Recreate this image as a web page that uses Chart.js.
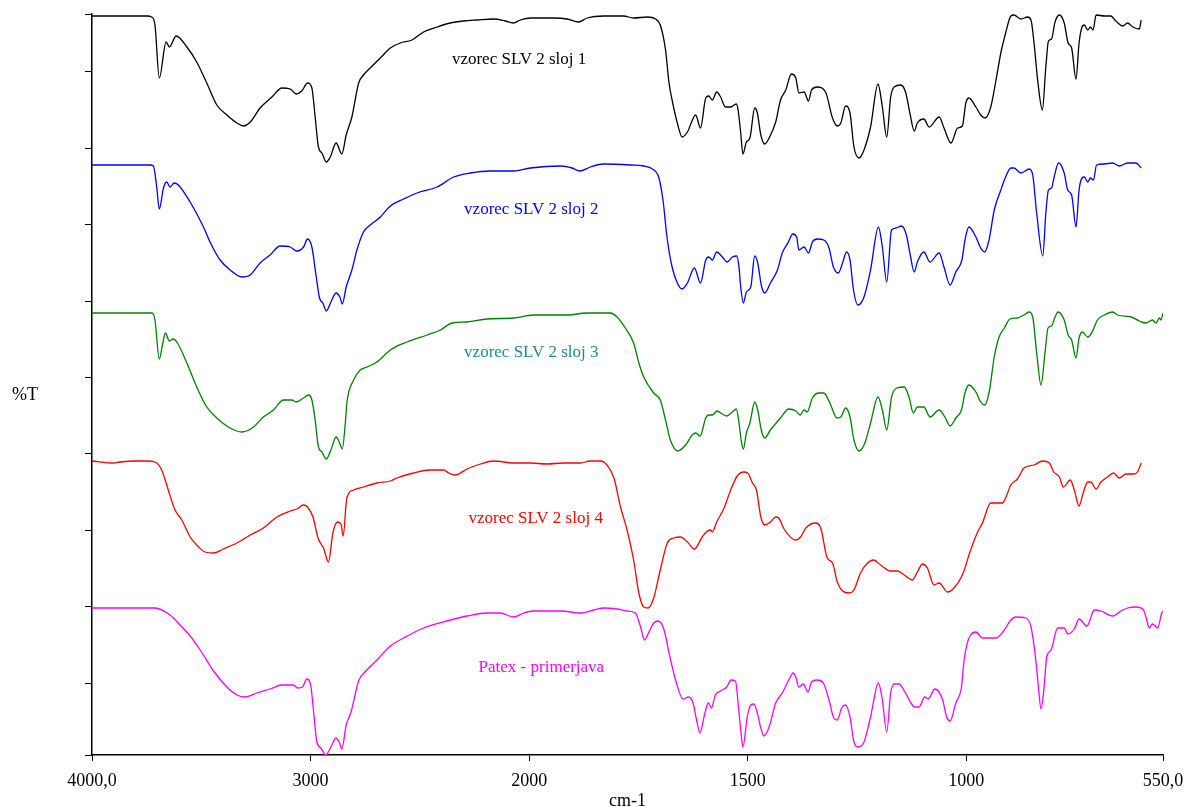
<!DOCTYPE html>
<html><head><meta charset="utf-8">
<script src="https://cdn.jsdelivr.net/npm/chart.js@4.4.0/dist/chart.umd.min.js"></script>
<style>html,body{margin:0;padding:0;background:#fff}</style>
</head><body>
<canvas id="c" width="1186" height="807"></canvas>
<script>
// ---- data: wavenumber (cm-1) and %T (stacked offset units) per trace ----
const wn1 = [4000,3748,3727,3712,3692,3661,3646,3615,3566,3521,3475,3429,3383,3337,3307,3276,3231,3177,3131,3093,3066,3040,3014,2994,2979,2964,2948,2928,2910,2883,2857,2837,2811,2780,2758,2727,2681,2635,2590,2536,2483,2421,2361,2300,2238,2162,2109,2073,2040,1997,1944,1913,1887,1867,1829,1784,1761,1730,1711,1700,1688,1680,1673,1661,1650,1638,1619,1608,1596,1589,1581,1571,1562,1551,1539,1526,1522,1516,1511,1503,1495,1484,1478,1470,1461,1451,1436,1425,1413,1400,1390,1383,1371,1361,1354,1341,1322,1306,1295,1287,1276,1266,1257,1245,1234,1219,1202,1192,1182,1173,1165,1150,1139,1129,1119,1112,1097,1085,1062,1051,1035,1020,1009,1001,994,978,967,957,944,932,921,910,898,891,875,860,852,845,836,826,818,812,805,797,787,776,767,759,749,742,736,730,722,716,710,703,684,669,658,642,631,619,604,600];
const t1 = [739,739,738,730,677,713,708,719,708,693,672,650,640,632,629,633,647,658,667,666,661,664,672,667,638,608,602,593,598,612,601,620,638,672,680,687,697,707,712,715,723,728,732,734,735,736,734,732,735,737,737,736,733,737,739,739,737,738,736,730,705,672,655,632,618,623,640,627,657,659,655,663,658,648,648,651,645,622,601,613,617,647,642,620,611,617,633,655,665,681,677,662,663,654,665,668,663,637,629,632,649,642,608,597,605,628,671,648,618,658,668,670,663,642,624,632,636,628,638,627,612,627,629,652,657,648,640,637,648,675,702,722,739,740,736,738,735,712,672,645,688,714,716,733,740,732,712,707,676,712,727,730,725,728,725,740,739,739,734,729,732,728,726,735];

const wn2 = [4000,3780,3734,3719,3704,3692,3673,3658,3643,3624,3605,3551,3490,3460,3414,3368,3314,3276,3231,3185,3139,3093,3063,3032,3014,2994,2974,2959,2944,2928,2907,2883,2864,2855,2837,2811,2788,2758,2727,2681,2635,2574,2513,2421,2345,2269,2177,2071,1997,1928,1902,1884,1860,1829,1768,1738,1718,1703,1693,1685,1673,1661,1650,1638,1622,1608,1596,1589,1581,1571,1558,1547,1535,1525,1520,1516,1510,1503,1493,1484,1477,1469,1461,1448,1432,1421,1408,1397,1388,1383,1371,1361,1352,1341,1326,1314,1304,1293,1283,1274,1266,1258,1248,1234,1219,1201,1192,1182,1171,1161,1148,1137,1129,1119,1112,1097,1083,1062,1051,1037,1024,1010,1003,994,978,967,958,948,936,921,910,898,891,875,856,848,839,825,818,812,805,799,789,776,768,759,749,742,735,730,722,716,709,702,684,665,650,631,612,600];
const t2 = [590,590,590,589,568,546,567,573,568,572,570,553,528,513,495,485,478,480,492,500,509,508,504,508,516,508,478,457,452,444,453,462,457,451,468,485,505,523,530,538,549,556,562,568,578,582,584,584,587,589,587,584,588,591,590,589,586,577,552,519,488,472,466,472,487,472,495,498,495,503,498,493,498,499,488,468,452,463,468,499,492,470,462,472,485,502,512,521,518,505,508,502,513,516,515,507,488,482,492,503,495,465,450,458,485,528,508,473,525,527,529,520,502,483,493,503,493,502,488,470,483,495,515,528,518,507,503,515,545,565,578,587,587,582,586,580,542,499,542,565,567,578,592,582,565,560,528,565,577,578,573,577,575,590,591,592,589,592,592,587];

const wn3 = [4000,3725,3712,3692,3676,3664,3646,3628,3609,3566,3521,3475,3429,3368,3314,3261,3216,3170,3124,3086,3066,3032,3009,2994,2979,2964,2948,2928,2907,2883,2867,2855,2841,2834,2803,2773,2742,2696,2635,2559,2467,2406,2353,2284,2193,2071,1990,1913,1867,1814,1799,1780,1761,1749,1738,1715,1700,1688,1677,1660,1642,1627,1619,1609,1596,1589,1581,1570,1558,1548,1535,1526,1520,1515,1510,1503,1495,1484,1477,1469,1461,1448,1425,1406,1390,1380,1371,1364,1352,1337,1326,1312,1296,1287,1276,1266,1257,1245,1232,1219,1202,1192,1182,1171,1159,1142,1131,1121,1112,1097,1083,1062,1049,1037,1024,1011,1003,994,978,967,958,948,936,925,913,900,883,868,857,848,839,829,820,813,805,797,790,776,767,759,749,742,734,722,711,700,684,665,654,623,604,589,574,566,558,555,550];
const t3 = [442,442,435,396,412,422,414,416,412,392,368,348,337,327,323,328,338,345,355,355,353,357,360,355,335,308,303,296,305,318,312,306,332,352,375,385,388,393,405,413,420,425,432,433,436,437,440,440,442,442,438,427,412,392,378,362,355,335,315,304,310,320,322,319,337,340,340,344,341,339,343,346,332,315,306,322,332,353,345,325,317,325,337,346,344,340,345,343,357,362,362,352,337,338,347,338,315,304,312,332,358,345,325,358,367,368,358,342,348,348,338,345,338,329,337,345,362,370,363,353,350,362,398,418,427,436,437,440,443,438,402,370,402,427,429,438,443,435,420,415,397,417,423,418,424,435,440,443,440,438,434,432,435,432,437,435,442];

const wn4 = [4000,3902,3872,3795,3750,3712,3681,3651,3620,3589,3551,3521,3483,3444,3399,3337,3276,3216,3154,3093,3063,3032,3014,2989,2966,2941,2918,2898,2877,2861,2851,2834,2803,2758,2696,2635,2605,2529,2452,2391,2368,2338,2284,2223,2162,2071,1997,1959,1921,1883,1860,1837,1822,1806,1791,1776,1761,1749,1738,1728,1715,1700,1684,1669,1654,1638,1622,1604,1595,1585,1581,1571,1554,1539,1524,1509,1500,1489,1480,1470,1461,1448,1436,1429,1417,1390,1379,1367,1345,1333,1318,1306,1295,1283,1268,1257,1242,1226,1212,1196,1173,1157,1142,1123,1112,1100,1089,1074,1062,1043,1028,1009,990,974,963,944,917,910,898,883,868,845,825,810,800,787,778,762,753,742,732,722,715,703,692,677,663,650,635,616,607,600];
const t4 = [294,292,293,294,294,293,285,265,245,235,218,210,203,202,206,212,220,227,238,244,246,250,248,238,217,207,193,222,233,231,219,257,265,268,272,274,277,282,285,285,282,280,286,291,294,292,292,291,292,292,294,294,290,277,248,225,195,162,148,147,157,185,212,217,218,213,206,218,223,225,223,233,247,265,279,283,282,272,265,238,230,233,238,237,226,215,218,227,232,227,197,192,173,164,162,165,182,192,195,190,184,184,180,175,183,191,187,170,172,163,167,180,205,223,232,252,252,257,270,276,287,290,294,292,283,278,268,275,265,249,263,273,273,266,273,278,282,277,281,281,284,292];

const wn5 = [4000,3712,3643,3597,3551,3505,3444,3383,3337,3299,3246,3185,3131,3078,3060,3037,3017,2998,2987,2971,2953,2930,2907,2884,2867,2857,2837,2815,2780,2742,2696,2635,2574,2483,2376,2284,2193,2132,2071,2025,1990,1928,1883,1852,1829,1799,1776,1757,1745,1736,1725,1715,1705,1692,1680,1665,1648,1635,1625,1617,1609,1600,1590,1583,1574,1562,1548,1538,1528,1522,1516,1511,1501,1493,1486,1478,1470,1463,1451,1436,1421,1406,1396,1390,1383,1373,1362,1354,1341,1327,1314,1303,1295,1285,1276,1266,1257,1247,1234,1219,1201,1192,1182,1173,1164,1154,1139,1118,1108,1095,1087,1072,1064,1054,1045,1037,1024,1011,1005,997,990,978,963,932,913,898,887,864,852,841,835,829,822,816,806,791,776,768,753,742,724,707,692,665,646,631,612,596,589,581,574,562,553,550];
const t5 = [147,147,140,130,119,105,84,68,60,58,62,66,70,70,67,68,76,68,45,13,7,0,8,17,12,6,30,43,74,85,95,109,117,127,134,139,142,142,138,142,144,144,142,145,147,146,144,142,128,115,124,132,134,126,102,75,56,58,52,35,22,38,52,47,60,64,68,75,74,52,25,8,38,50,51,42,27,19,28,52,62,75,82,78,68,71,63,73,75,72,55,37,35,47,50,38,13,8,13,38,72,55,23,62,71,71,62,48,48,58,56,66,64,55,38,34,52,68,95,113,120,123,117,117,125,135,138,137,128,95,68,46,68,98,105,127,127,121,126,136,129,145,144,139,144,147,148,146,138,127,131,127,142,144];

const seriesNames = ['vzorec SLV 2 sloj 1','vzorec SLV 2 sloj 2','vzorec SLV 2 sloj 3','vzorec SLV 2 sloj 4','Patex - primerjava'];
const seriesWn = [wn1, wn2, wn3, wn4, wn5];
const seriesT = [t1, t2, t3, t4, t5];
const lineColors = ['#000000','#0000ff','#008000','#ff0000','#ff00ff'];

// text labels placed in data space
const labelWn = [2046, 1995, 1995, 1985, 1972];
const labelT = [695, 545, 402, 236, 87];
const labelColors = ['#000000','#0000ff','#218a8a','#ff0000','#ff00ff'];

// axes
const xTickValues = [4000, 3000, 2000, 1500, 1000, 550];
const xTickLabels = ['4000,0', '3000', '2000', '1500', '1000', '550,0'];
const yTickValues = [0, 72, 148.4, 224.8, 301.2, 377.6, 454, 530.4, 606.8, 683.2, 741];
const yTitle = '%T';
const xTitle = 'cm-1';

// ---- piecewise wavenumber scale (scale halves below 2000 cm-1) ----
const WN_MAX = 4000, WN_BREAK = 2000, WN_MIN = 550;
class WavenumberScale extends Chart.LinearScale {
  _u(v) { return v >= WN_BREAK ? (WN_MAX - v) / 2 : (WN_MAX - WN_BREAK) / 2 + (WN_BREAK - v); }
  getPixelForValue(v) {
    const tot = this._u(WN_MIN);
    return this.left + this._u(v) / tot * this.width;
  }
  getValueForPixel(p) {
    const tot = this._u(WN_MIN);
    const u = (p - this.left) / this.width * tot;
    const ub = (WN_MAX - WN_BREAK) / 2;
    return u <= ub ? WN_MAX - 2 * u : WN_BREAK - (u - ub);
  }
}
WavenumberScale.id = 'wavenumber';
WavenumberScale.defaults = Chart.LinearScale.defaults;
Chart.register(WavenumberScale);

const FONT = 'Liberation Serif';

const textPlugin = {
  id: 'irText',
  afterDatasetsDraw(chart) {
    const { ctx, scales: { x, y } } = chart;
    ctx.save();
    ctx.textAlign = 'center';
    ctx.textBaseline = 'middle';
    ctx.font = '17px "' + FONT + '"';
    seriesNames.forEach((name, i) => {
      ctx.fillStyle = labelColors[i];
      ctx.fillText(name, x.getPixelForValue(labelWn[i]), y.getPixelForValue(labelT[i]));
    });
    ctx.fillStyle = '#000';
    ctx.font = '18px "' + FONT + '"';
    ctx.fillText(yTitle, 25, y.getPixelForValue(360));
    ctx.restore();
  }
};

const datasets = seriesWn.map((wn, i) => ({
  label: seriesNames[i],
  data: wn.map((w, k) => ({ x: w, y: seriesT[i][k] })),
  borderColor: lineColors[i],
  borderWidth: 1.3,
  pointRadius: 0,
  fill: false,
  cubicInterpolationMode: 'monotone'
}));

new Chart(document.getElementById('c'), {
  type: 'line',
  data: { datasets },
  plugins: [textPlugin],
  options: {
    responsive: false,
    animation: false,
    devicePixelRatio: 1,
    events: [],
    layout: { padding: { left: 0, right: 23, top: 14, bottom: 0 } },
    plugins: { legend: { display: false }, tooltip: { enabled: false } },
    scales: {
      x: {
        type: 'wavenumber',
        min: WN_MIN, max: WN_MAX,
        afterBuildTicks: s => { s.ticks = xTickValues.map(v => ({ value: v })); },
        afterFit: s => { s.height = 52; s.paddingLeft = 0; s.paddingRight = 0; },
        ticks: {
          autoSkip: false, maxRotation: 0, minRotation: 0, padding: 9,
          color: '#000', font: { family: FONT, size: 18 },
          callback: (v, i) => xTickLabels[i]
        },
        grid: { drawOnChartArea: false, drawTicks: true, tickLength: 6, color: '#000', lineWidth: 1 },
        border: { display: true, color: '#000', width: 1.5 },
        title: { display: true, text: xTitle, color: '#000', font: { family: FONT, size: 18, lineHeight: 1 }, padding: { top: 0, bottom: -3 } }
      },
      y: {
        type: 'linear',
        min: 0, max: 741,
        afterBuildTicks: s => { s.ticks = yTickValues.map(v => ({ value: v })); },
        afterFit: s => { s.width = 92; },
        ticks: { display: false },
        grid: { drawOnChartArea: false, drawTicks: true, tickLength: 7, color: '#000', lineWidth: 1 },
        border: { display: true, color: '#000', width: 1.5 }
      }
    }
  }
});
</script>
</body></html>
